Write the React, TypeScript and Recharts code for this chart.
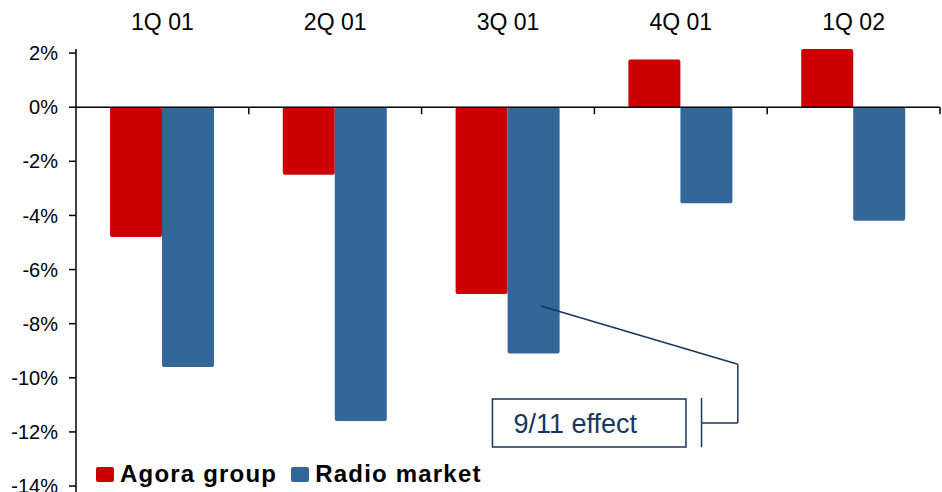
import {
  BarChart,
  Bar,
  XAxis,
  YAxis,
  ReferenceLine,
  ReferenceArea,
} from "recharts";

const categories = ["1Q 01", "2Q 01", "3Q 01", "4Q 01", "1Q 02"];
const agoraGroup = [-4.8, -2.5, -6.9, 1.76, 2.15];
const radioMarket = [-9.6, -11.6, -9.1, -3.55, -4.2];
const yTicks = [-14, -12, -10, -8, -6, -4, -2, 0, 2];

const series = [
  { key: "agora", name: "Agora group", color: "#CC0000" },
  { key: "radio", name: "Radio market", color: "#336699" },
];

// pos = centre of each category on a 0..N number line
const data = categories.map((c, i) => ({
  quarter: c,
  pos: i + 0.5,
  agora: agoraGroup[i],
  radio: radioMarket[i],
}));

// category boundaries on the zero line (in category units)
const boundaries = categories.map((_, i) => i + 1);

// "9/11 effect" callout, in data units (x = category position, y = %)
const calloutPath = [
  { x: 2.69, y: -7.35 },
  { x: 3.83, y: -9.5 },
  { x: 3.83, y: -11.67 },
  { x: 3.62, y: -11.67 },
];
const calloutBracket = { x: 3.62, y1: -10.74, y2: -12.56 };
const calloutBox = { x1: 2.41, x2: 3.53, y1: -12.56, y2: -10.78 };

const NAVY = "#17375E";
const FONT = "Arial, 'Liberation Sans', sans-serif";

export default function App() {
  return (
    <div
      style={{
        position: "absolute",
        left: 0,
        top: 0,
        width: 942,
        height: 492,
        fontFamily: FONT,
        background: "#fff",
      }}
    >
      <BarChart
        width={942}
        height={492}
        data={data}
        margin={{ top: 0, right: 2, left: 0, bottom: 0 }}
        barSize={52}
        barGap={0}
      >
        <XAxis
          dataKey="quarter"
          orientation="top"
          height={49}
          axisLine={false}
          tickLine={false}
          interval={0}
          tick={(props: any) => (
            <text
              x={props.x}
              y={30}
              textAnchor="middle"
              fontSize={23}
              fontFamily={FONT}
              fill="#000"
            >
              {props.payload.value}
            </text>
          )}
        />
        <XAxis
          xAxisId="pos"
          dataKey="pos"
          type="number"
          domain={[0, categories.length]}
          hide
          allowDataOverflow
        />
        <YAxis
          width={76}
          domain={[-14.22, 2.15]}
          allowDataOverflow
          ticks={yTicks}
          interval={0}
          tickFormatter={(v: number) => `${v}%`}
          tick={{ fontSize: 20, fill: "#000", fontFamily: FONT }}
          axisLine={{ stroke: "#000", strokeWidth: 1.5 }}
          tickLine={{ stroke: "#000", strokeWidth: 1.5 }}
          tickSize={7}
          tickMargin={11}
        />
        {series.map((s) => (
          <Bar
            key={s.key}
            dataKey={s.key}
            name={s.name}
            fill={s.color}
            radius={2}
            isAnimationActive={false}
          />
        ))}
        <ReferenceLine y={0} stroke="#000" strokeWidth={1.5} />
        {boundaries.map((b) => (
          <ReferenceLine
            key={`tick-${b}`}
            xAxisId="pos"
            segment={[
              { x: b, y: 0 },
              { x: b, y: -0.26 },
            ]}
            stroke="#000"
            strokeWidth={1.5}
            ifOverflow="visible"
          />
        ))}
        {calloutPath.slice(1).map((p, i) => (
          <ReferenceLine
            key={`call-${i}`}
            xAxisId="pos"
            segment={[calloutPath[i], p]}
            stroke={NAVY}
            strokeWidth={1.5}
            ifOverflow="visible"
          />
        ))}
        <ReferenceLine
          xAxisId="pos"
          segment={[
            { x: calloutBracket.x, y: calloutBracket.y1 },
            { x: calloutBracket.x, y: calloutBracket.y2 },
          ]}
          stroke={NAVY}
          strokeWidth={1.5}
          ifOverflow="visible"
        />
        <ReferenceArea
          xAxisId="pos"
          x1={calloutBox.x1}
          x2={calloutBox.x2}
          y1={calloutBox.y1}
          y2={calloutBox.y2}
          fill="#fff"
          fillOpacity={1}
          stroke={NAVY}
          strokeWidth={1.5}
          ifOverflow="visible"
          label={{
            value: "9/11 effect",
            position: "insideLeft",
            offset: 21,
            fill: NAVY,
            fontSize: 27,
            fontFamily: FONT,
          }}
        />
      </BarChart>
      <div
        style={{
          position: "absolute",
          left: 96,
          top: 460,
          display: "flex",
          alignItems: "center",
          fontWeight: "bold",
          fontSize: 24,
          letterSpacing: 1.2,
          color: "#000",
        }}
      >
        {series.map((s) => (
          <div
            key={s.key}
            style={{ display: "flex", alignItems: "center", marginRight: 14 }}
          >
            <span
              style={{
                display: "inline-block",
                width: 18,
                height: 15,
                background: s.color,
                borderRadius: 2,
                marginRight: 6,
              }}
            />
            <span>{s.name}</span>
          </div>
        ))}
      </div>
    </div>
  );
}
